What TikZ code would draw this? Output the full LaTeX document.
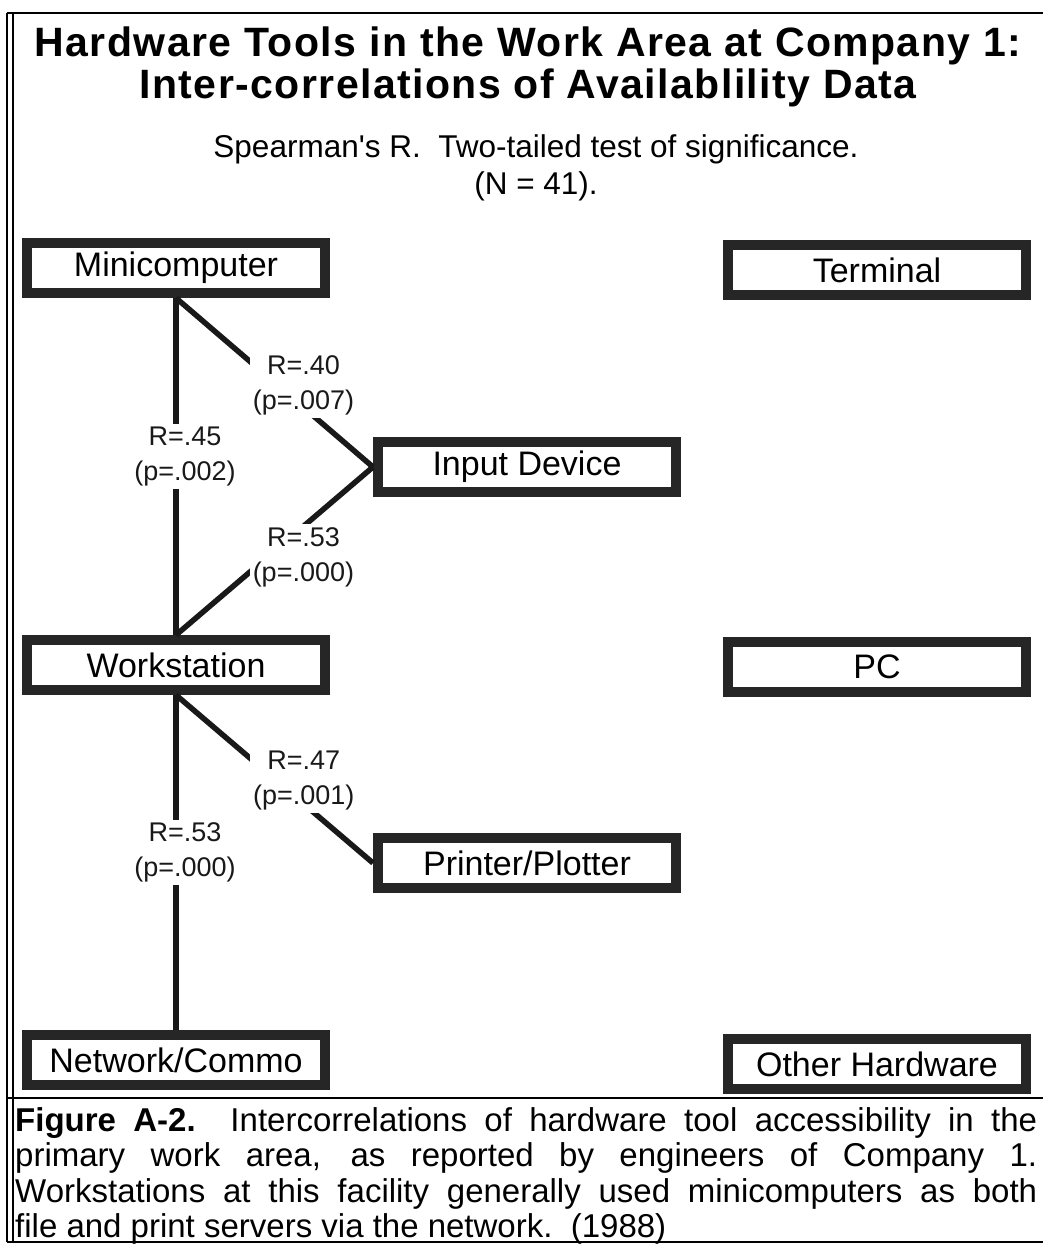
\documentclass[tikz,border=0pt]{standalone}
\usepackage{fontspec}
\setmainfont{Liberation Sans}
\usepackage{xcolor}
\usetikzlibrary{math}
\definecolor{mygray}{RGB}{38,38,38}

\begin{document}
\begin{tikzpicture}[x=1pt,y=-1pt,
  tool/.style={draw=mygray, fill=white, line width=10pt, minimum width=298pt, minimum height=50pt, inner sep=0pt, font=\fontsize{34}{36}\selectfont},
  link/.style={line width=5.5pt, color=black!90},
  corr/.style={fill=white, align=center, inner sep=3pt, font=\fontsize{27}{35}\selectfont}]
\tikzmath{
\W=1043;
\H=1246;
\xl=176;
\xm=527;
\xr=877;
}
\useasboundingbox (0,0) rectangle (\W,\H);

%frame
\draw[line width=2pt] (7,13) -- (\W,13);
\draw[line width=1.5pt] (7,13) -- (7,1242) (13,13) -- (13,1242);
\draw[line width=2pt] (7,1098) -- (\W,1098);
\draw[line width=2pt] (7,1242) -- (\W,1242);

%headings
\node[font=\bfseries\fontsize{41}{42}\selectfont\addfontfeature{LetterSpace=3.5}, align=center] (title) at (528,67) {Hardware Tools in the Work Area at Company 1:\\Inter-correlations of Availablility Data};
\node[font=\fontsize{31.5}{37}\selectfont, align=center] (sub) at (536,168) {Spearman\textquotesingle s R.\ \ Two-tailed test of significance.\\(N = 41).};

%tools
\node[tool] (mini) at (\xl,268) {Minicomputer};
\node[tool] (term) at (\xr,270) {Terminal};
\node[tool] (inp) at (\xm,467) {Input Device};
\node[tool] (ws) at (\xl,665) {Workstation};
\node[tool] (pc) at (\xr,667) {PC};
\node[tool] (prn) at (\xm,863) {Printer/Plotter};
\node[tool] (net) at (\xl,1060) {Network/Commo};
\node[tool] (oth) at (\xr,1064) {Other Hardware};

%correlations
\draw[link] (mini.south) -- (ws.north) node[corr, pos=0.47, xshift=9] {R=.45\\(p=.002)};
\draw[link] (mini.south) -- (inp.west) node[corr, pos=0.515, xshift=26] {R=.40\\(p=.007)};
\draw[link] (inp.west) -- (ws.north) node[corr, pos=0.536, xshift=36] {R=.53\\(p=.000)};
\draw[link] (ws.south) -- (prn.west) node[corr, pos=0.506, xshift=28] {R=.47\\(p=.001)};
\draw[link] (ws.south) -- (net.north) node[corr, pos=0.47, xshift=9] {R=.53\\(p=.000)};

%caption
\node[anchor=north west, text width=1022pt, align=justify, inner sep=0pt, font=\fontsize{33}{35.5}\selectfont] (cap) at (15,1107) {\noindent\hyphenpenalty=10000\textbf{Figure A-2.}\ \ Intercorrelations of hardware tool accessibility in the\linebreak primary work area, as reported by engineers of Company 1.\linebreak Workstations at this facility generally used minicomputers as both\linebreak file and print servers via the network.\ \ (1988)};
\end{tikzpicture}
\end{document}
